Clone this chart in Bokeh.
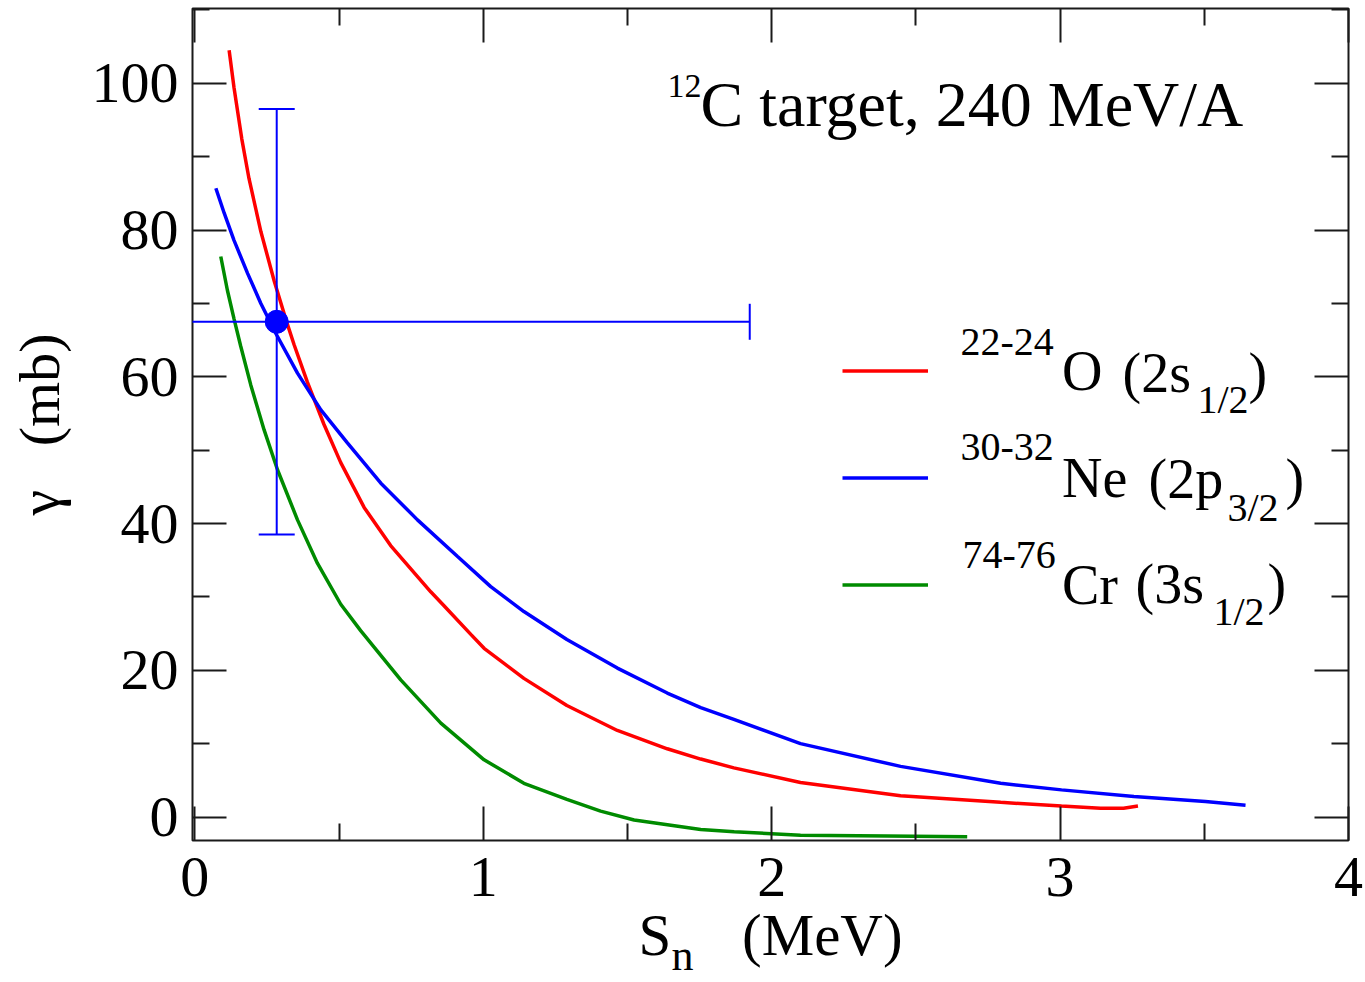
import math

from bokeh.core.properties import value
from bokeh.embed import file_html
from bokeh.models import (ColumnDataSource, FixedTicker, Label, Legend,
                          LegendItem, LinearAxis, Range1d)
from bokeh.plotting import figure
from bokeh.resources import INLINE

FONT = "Liberation Serif"
NBSP = "\u00a0"

# Calculated gamma (mb) against neutron separation energy S_n (MeV)
o_sn = [0.119, 0.136, 0.163, 0.188, 0.229, 0.275, 0.315, 0.344, 0.39, 0.448,
        0.506, 0.587, 0.679, 0.818, 0.864, 0.957, 1.003, 1.141, 1.29, 1.465,
        1.638, 1.754, 1.869, 2.1, 2.447, 2.794, 3.005, 3.14, 3.22, 3.27]
o_gamma = [104.5, 99.4, 92.4, 87.0, 79.8, 73.1, 67.9, 64.4, 59.3, 53.5,
           48.3, 42.2, 37.0, 30.7, 28.8, 24.9, 23.0, 18.9, 15.2, 11.8,
           9.3, 7.9, 6.7, 4.7, 2.9, 2.0, 1.5, 1.2, 1.2, 1.5]

ne_sn = [0.073, 0.102, 0.136, 0.183, 0.229, 0.281, 0.356, 0.437, 0.529, 0.645,
         0.772, 0.911, 1.026, 1.141, 1.29, 1.465, 1.638, 1.754, 1.869, 2.1,
         2.447, 2.794, 3.005, 3.256, 3.504, 3.643]
ne_gamma = [85.7, 82.3, 78.6, 74.1, 70.0, 65.9, 60.5, 55.5, 51.0, 45.5,
            40.5, 35.5, 31.4, 28.0, 24.2, 20.3, 16.9, 14.9, 13.3, 10.0,
            6.9, 4.6, 3.7, 2.8, 2.1, 1.6]

cr_sn = [0.09, 0.113, 0.136, 0.159, 0.194, 0.24, 0.287, 0.356, 0.425, 0.506,
         0.575, 0.714, 0.853, 1.003, 1.141, 1.29, 1.407, 1.523, 1.754, 1.87,
         2.1, 2.4, 2.678]
cr_gamma = [76.4, 71.8, 67.9, 64.2, 58.9, 52.8, 47.3, 40.5, 34.6, 29.0,
            25.4, 18.7, 12.8, 7.8, 4.6, 2.4, 0.8, -0.4, -1.7, -2.0,
            -2.5, -2.6, -2.7]

# Measured point with its uncertainties
meas_sn = [0.284]
meas_gamma = [67.5]
meas_sn_err = [1.64]
meas_gamma_err = [29.0]

x_major = [0, 1, 2, 3, 4]
x_minor = [0.5, 1.5, 2.5, 3.5]
y_major = [0, 20, 40, 60, 80, 100]
y_minor = [10, 30, 50, 70, 90, 110]

RED, BLUE, GREEN = "#ff0000", "#0000ff", "#008b00"
INK = "#1a1a1a"

p = figure(width=1365, height=982,
           x_range=Range1d(-0.008, 4.0), y_range=Range1d(-3.2, 110.2),
           x_axis_location=None, y_axis_location=None,
           output_backend="svg", toolbar_location=None,
           min_border_left=192, min_border_right=17,
           min_border_top=8, min_border_bottom=142)
p.grid.grid_line_color = None
p.background_fill_color = "white"
p.border_fill_color = "white"
p.outline_line_color = INK
p.outline_line_width = 2


def frame_axis(major, minor, labelled, standoff=0):
    ax = LinearAxis(ticker=FixedTicker(ticks=major, minor_ticks=minor))
    ax.axis_line_color = None
    ax.major_tick_in = 34
    ax.major_tick_out = 0
    ax.minor_tick_in = 17
    ax.minor_tick_out = 0
    ax.major_tick_line_color = INK
    ax.minor_tick_line_color = INK
    ax.major_tick_line_width = 2
    ax.minor_tick_line_width = 2
    ax.major_label_standoff = standoff
    if labelled:
        ax.major_label_text_font = FONT
        ax.major_label_text_font_size = "58px"
        ax.major_label_text_color = "black"
    else:
        ax.major_label_overrides = {t: "" for t in major}
    ax.axis_label_text_font = FONT
    ax.axis_label_text_font_style = "normal"
    ax.axis_label_text_color = "black"
    return ax


x_axis = frame_axis(x_major, x_minor, True, 17)
x_axis.axis_label = "S" + NBSP * 4 + "\u2009(MeV)"
x_axis.axis_label_text_font_size = "59px"
x_axis.axis_label_standoff = 3
p.add_layout(x_axis, "below")

# subscript of the x title, carried by a bare axis under the first one
x_sub = LinearAxis(ticker=FixedTicker(ticks=[]), axis_line_color=None,
                   major_tick_in=0, major_tick_out=0,
                   minor_tick_in=0, minor_tick_out=0,
                   major_label_standoff=0,
                   axis_label="n" + NBSP * 16, axis_label_standoff=-40,
                   axis_label_text_font=FONT, axis_label_text_font_size="44px",
                   axis_label_text_font_style="normal",
                   axis_label_text_color="black")
p.add_layout(x_sub, "below")

p.add_layout(frame_axis(x_major, x_minor, False), "above")

y_axis = frame_axis(y_major, y_minor, True, 14)
y_axis.axis_label = "\u03b3" + NBSP * 3 + "(mb)"
y_axis.axis_label_text_font_size = "58px"
y_axis.axis_label_standoff = 17
p.add_layout(y_axis, "left")
p.add_layout(frame_axis(y_major, y_minor, False), "right")

# Curves
r_o = p.line(o_sn, o_gamma, line_color=RED, line_width=3.5)
r_ne = p.line(ne_sn, ne_gamma, line_color=BLUE, line_width=3.5)
r_cr = p.line(cr_sn, cr_gamma, line_color=GREEN, line_width=3.5)

# Measured point with error bars
src = ColumnDataSource(dict(
    x=meas_sn, y=meas_gamma,
    x_lo=[x - e for x, e in zip(meas_sn, meas_sn_err)],
    x_hi=[x + e for x, e in zip(meas_sn, meas_sn_err)],
    y_lo=[y - e for y, e in zip(meas_gamma, meas_gamma_err)],
    y_hi=[y + e for y, e in zip(meas_gamma, meas_gamma_err)],
))
p.segment(x0="x", y0="y_lo", x1="x", y1="y_hi", source=src,
          line_color=BLUE, line_width=2)
p.segment(x0="x_lo", y0="y", x1="x_hi", y1="y", source=src,
          line_color=BLUE, line_width=2)
p.scatter(x="x", y="y_lo", source=src, marker="dash", size=36,
          line_color=BLUE, line_width=2)
p.scatter(x="x", y="y_hi", source=src, marker="dash", size=36,
          line_color=BLUE, line_width=2)
p.scatter(x="x_hi", y="y", source=src, marker="dash", size=36, angle=math.pi / 2,
          line_color=BLUE, line_width=2)
p.scatter(x="x", y="y", source=src, marker="circle", size=23,
          fill_color=BLUE, line_color=BLUE)

# Legend: swatches plus element names; mass numbers and orbitals added below
legend = Legend(items=[LegendItem(label=value(name), renderers=[r])
                       for name, r in (("O", r_o), ("Ne", r_ne), ("Cr", r_cr))],
                location=(650, 202), glyph_width=86, glyph_height=107,
                label_height=107, label_standoff=134,
                label_text_font=FONT, label_text_font_size="56px",
                label_text_color="black", label_text_baseline="middle",
                spacing=0, padding=0, margin=0,
                border_line_color=None, background_fill_alpha=0)
p.add_layout(legend)


def txt(px, baseline, s, size):
    # px, baseline: left edge and baseline of the text, counted from the
    # canvas top-left corner; converted to frame-relative screen units
    p.add_layout(Label(x=px - 192, y=840 - baseline + 0.35 * size,
                       x_units="screen", y_units="screen", text=s,
                       text_font=FONT, text_font_size=f"{size}px",
                       text_color="black", text_baseline="alphabetic",
                       text_align="left"))


# Panel caption
txt(667, 97, "12", 34)
txt(700, 126, "C target, 240 MeV/A", 64)

# Mass numbers and orbitals of the legend entries
txt(960, 355, "22-24", 40)
txt(1122, 392, "(2s", 56)
txt(1197, 413, "1/2", 40)
txt(1248, 392, ")", 56)

txt(960, 460, "30-32", 40)
txt(1148, 498, "(2p", 56)
txt(1227, 521, "3/2", 40)
txt(1285, 498, ")", 56)

txt(962, 568, "74-76", 40)
txt(1135, 603, "(3s", 56)
txt(1213, 625, "1/2", 40)
txt(1267, 603, ")", 56)

open("out.html", "w").write(file_html(p, INLINE))
